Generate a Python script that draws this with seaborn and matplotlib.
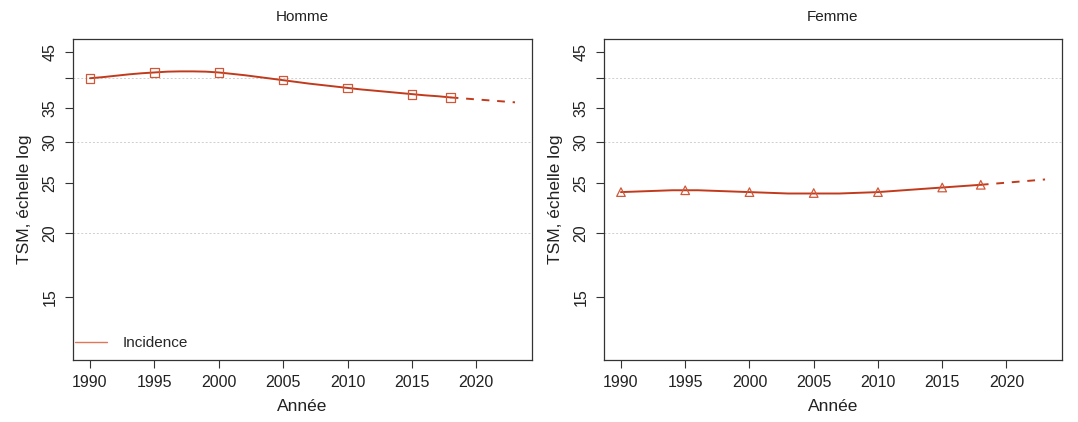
import seaborn as sns
import matplotlib
matplotlib.use("Agg")
import matplotlib.pyplot as plt
import pandas as pd

# smoothed incidence curve (TSM, per 100 000)
years = list(range(1990, 2019))
homme_curve = [40.0, 40.2, 40.45, 40.7, 40.9, 41.05, 41.2, 41.25, 41.25, 41.2,
               41.05, 40.8, 40.55, 40.25, 39.95, 39.65, 39.35, 39.05, 38.8, 38.55,
               38.3, 38.05, 37.85, 37.65, 37.45, 37.25, 37.05, 36.9, 36.7]
femme_curve = [24.0, 24.05, 24.1, 24.15, 24.2, 24.2, 24.2, 24.15, 24.1, 24.05,
               24.0, 23.95, 23.9, 23.85, 23.85, 23.85, 23.85, 23.85, 23.9, 23.95,
               24.0, 24.1, 24.2, 24.3, 24.4, 24.5, 24.6, 24.7, 24.8]

# projection (dashed)
proj_years = [2018, 2023]
homme_proj = [36.7, 35.9]
femme_proj = [24.8, 25.4]

# observed points
point_years = [1990, 1995, 2000, 2005, 2010, 2015, 2018]
homme_points = [40.0, 41.0, 41.0, 39.7, 38.3, 37.2, 36.7]
femme_points = [24.0, 24.2, 24.0, 23.9, 24.0, 24.5, 24.8]

y_ticks = [15, 20, 25, 30, 35, 40, 45]
y_tick_labels = ["15", "20", "25", "30", "35", "", "45"]
x_ticks = [1990, 1995, 2000, 2005, 2010, 2015, 2020]
grid_levels = [20, 30, 40]

sns.set_style("ticks")
plt.rcParams['font.family'] = ['Liberation Sans', 'DejaVu Sans']

line_col = "#c23a1c"
mark_col = "#d0583a"
text_col = "#222222"

fig = plt.figure(figsize=(10.78, 4.22), dpi=100)
ax_h = fig.add_axes([73 / 1078, 62 / 422, 459 / 1078, 321 / 422])
ax_f = fig.add_axes([604 / 1078, 62 / 422, 458 / 1078, 321 / 422])

panels = [
    (ax_h, "Homme", homme_curve, homme_proj, homme_points, "s"),
    (ax_f, "Femme", femme_curve, femme_proj, femme_points, "^"),
]

for ax, title, curve, proj, points, marker in panels:
    for g in grid_levels:
        ax.axhline(g, color="#cfcfcf", lw=0.7, ls=(0, (2, 2)), zorder=0)

    df_c = pd.DataFrame({"year": years, "tsm": curve})
    df_p = pd.DataFrame({"year": proj_years, "tsm": proj})
    df_m = pd.DataFrame({"year": point_years, "tsm": points})

    sns.lineplot(data=df_c, x="year", y="tsm", ax=ax, color=line_col, lw=1.4)
    sns.lineplot(data=df_p, x="year", y="tsm", ax=ax, color=line_col, lw=1.4,
                 dashes=False, linestyle=(0, (4, 4)))
    ax.scatter(df_m["year"], df_m["tsm"], marker=marker, s=38,
               facecolors="none", edgecolors=mark_col, linewidths=0.9, zorder=3)

    ax.set_yscale("log")
    ax.set_ylim(11.3, 47.7)
    ax.set_xlim(1988.68, 2024.32)
    ax.set_yticks(y_ticks)
    ax.set_yticklabels(y_tick_labels, rotation=90, va="center")
    ax.yaxis.set_minor_locator(matplotlib.ticker.NullLocator())
    ax.set_xticks(x_ticks)
    ax.tick_params(axis="both", labelsize=11.5, length=6, width=0.8,
                   colors="#333333", labelcolor=text_col, pad=5)

    for sp in ax.spines.values():
        sp.set_color("#333333")
        sp.set_linewidth(0.9)

    ax.set_title(title, fontsize=11, color=text_col, pad=13)
    ax.set_xlabel("Année", fontsize=12.5, color=text_col, labelpad=6)
    ax.set_ylabel("TSM, échelle log", fontsize=12.5, color=text_col, labelpad=8)

# legend in the left panel only
leg_line = matplotlib.lines.Line2D([], [], color="#e0765a", lw=1.0)
ax_h.legend([leg_line], ["Incidence"], loc="lower left", frameon=False,
            fontsize=11, handlelength=2.1, handletextpad=1.0,
            bbox_to_anchor=(-0.025, -0.012))

fig.savefig("out.png", dpi=100)
